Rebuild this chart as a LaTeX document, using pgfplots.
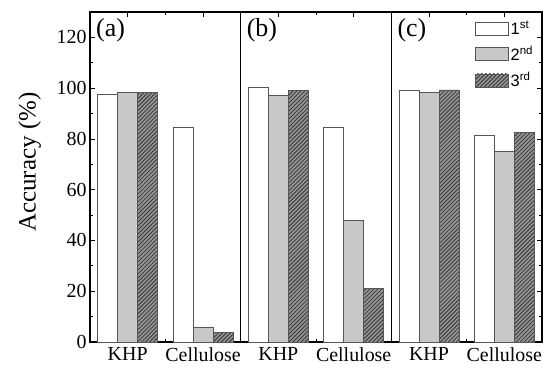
\documentclass[border=0pt]{standalone}
\usepackage{fontspec}
\setmainfont{Liberation Serif}
\newfontfamily\legfont{Liberation Sans}
\usepackage{pgfplots}
\pgfplotsset{compat=1.18}
\usetikzlibrary{patterns}
\pgfdeclarepatternformonly{hatch}{\pgfqpoint{-1pt}{-1pt}}{\pgfqpoint{5pt}{5pt}}{\pgfqpoint{4pt}{4pt}}{%
  \pgfsetlinewidth{0.8pt}\pgfpathmoveto{\pgfqpoint{0pt}{0pt}}\pgfpathlineto{\pgfqpoint{4.1pt}{4.1pt}}\pgfusepath{stroke}}
\definecolor{edge}{HTML}{555555}
\definecolor{lgray}{HTML}{C8C8C8}
\definecolor{hbase}{HTML}{949494}
\definecolor{hline}{HTML}{383838}

\pgfplotsset{
  panel/.style={
    width=150.67bp, height=330bp, scale only axis,
    ymin=0, ymax=130, xmin=0.5, xmax=2.5,
    ybar=0pt, bar width=20bp,
    xtick={1,2}, xticklabels={KHP,Cellulose}, minor xtick={1.5},
    xticklabel pos=lower,
    ytick={0,20,...,120}, minor ytick={10,30,...,130},
    tick align=inside, major tick length=5bp, minor tick length=3bp,
    tick style={black, line width=0.8pt},
    axis line style={line width=1.1pt},
    every tick label/.append style={font=\rmfamily\fontsize{20}{22}\selectfont},
    xticklabel style={yshift=-2bp},
    clip=false,
  },
  b1/.style={draw=edge, line width=0.8pt, fill=white},
  b2/.style={draw=edge, line width=0.8pt, fill=lgray},
  b3/.style={draw=edge, line width=0.8pt, fill=hbase, postaction={pattern=hatch, pattern color=hline}},
}

\begin{document}
\begin{tikzpicture}
\useasboundingbox (-90bp,-26bp) rectangle (453bp,342bp);
% panel a
\begin{axis}[panel, at={(0bp,0bp)}, anchor=south west,
  ytick pos=left,
  yticklabel={\rmfamily\pgfmathprintnumber[assume math mode=true,fixed,precision=0]{\tick}},
  ylabel={Accuracy (\%)},
  every axis y label/.style={at={(axis description cs:-0.40,0.545)}, rotate=90, anchor=center,
    font=\rmfamily\fontsize{25}{27}\selectfont},
]
\addplot[b1] coordinates {(1,97.5) (2,84.5)};
\addplot[b2] coordinates {(1,98.2) (2,5.8)};
\addplot[b3] coordinates {(1,98.2) (2,3.8)};
\node[anchor=north west, inner sep=0pt, font=\fontsize{26}{28}\selectfont] at (rel axis cs:0,1) [xshift=6bp, yshift=-6bp] {(a)};
\end{axis}
% panel b
\begin{axis}[panel, at={(150.67bp,0bp)}, anchor=south west,
  ytick=\empty, minor ytick={},
]
\addplot[b1] coordinates {(1,100.3) (2,84.5)};
\addplot[b2] coordinates {(1,97.2) (2,47.9)};
\addplot[b3] coordinates {(1,99.1) (2,21.0)};
\node[anchor=north west, inner sep=0pt, font=\fontsize{26}{28}\selectfont] at (rel axis cs:0,1) [xshift=6bp, yshift=-6bp] {(b)};
\end{axis}
% panel c
\begin{axis}[panel, at={(301.33bp,0bp)}, anchor=south west,
  ytick pos=right, yticklabels={},
  legend style={at={(rel axis cs:0.975,0.985)}, anchor=north east, draw=none, fill=none,
    font=\legfont\fontsize{16.5}{18}\selectfont, row sep=6bp,
    /tikz/every even column/.append style={column sep=0bp}},
  legend cell align=left,
  legend image code/.code={\draw[#1] (0bp,-6.5bp) rectangle (33bp,6.5bp);},
]
\addplot[b1] coordinates {(1,99.1) (2,81.2)};
\addplot[b2] coordinates {(1,98.3) (2,75.2)};
\addplot[b3] coordinates {(1,99.3) (2,82.6)};
\legend{1\textsuperscript{st},2\textsuperscript{nd},3\textsuperscript{rd}}
\node[anchor=north west, inner sep=0pt, font=\fontsize{26}{28}\selectfont] at (rel axis cs:0,1) [xshift=6bp, yshift=-6bp] {(c)};
\end{axis}
\end{tikzpicture}
\end{document}
